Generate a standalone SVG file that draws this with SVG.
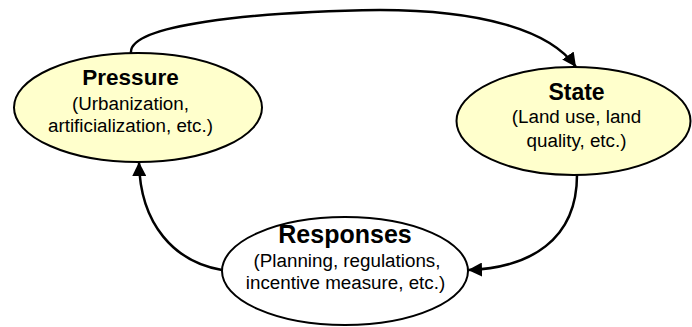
<svg xmlns="http://www.w3.org/2000/svg" width="692" height="327" viewBox="0 0 692 327">
<style>
.node{stroke:#000;stroke-width:2}
.yl{fill:#FFFFCC}
.wh{fill:#FFFFFF}
.t{font-family:"Liberation Sans",Arial,sans-serif;fill:#000;text-anchor:middle}
.ti{font-weight:bold}
.sub{font-size:18.8px}
.edge{fill:none;stroke:#000;stroke-width:2.5}
</style>
<defs>
<marker id="arr" markerUnits="userSpaceOnUse" markerWidth="16" markerHeight="14" refX="14" refY="7" orient="auto">
<path d="M0,0 L14,7 L0,14 Z" fill="#000"/>
</marker>
</defs>
<g id="connectors">
<path class="edge" d="M131,53 C128,25 250,12 380,10 C480,10 550,30 576,67" marker-end="url(#arr)"/>
<path class="edge" d="M577,175 C577,240 530,268 468,270" marker-end="url(#arr)"/>
<path class="edge" d="M222,270 C175,262 140,225 139,162" marker-end="url(#arr)"/>
</g>
<g id="pressure">
<ellipse class="node yl" cx="138" cy="107.5" rx="124" ry="54.5"/>
<text class="t ti" x="130.5" y="85" font-size="22.5">Pressure</text>
<text class="t sub" x="130.5" y="110">(Urbanization,</text>
<text class="t sub" x="130.5" y="132">artificialization, etc.)</text>
</g>
<g id="state">
<ellipse class="node yl" cx="573.5" cy="121" rx="117" ry="54"/>
<text class="t ti" x="576.5" y="100" font-size="23">State</text>
<text class="t sub" x="576.5" y="123">(Land use, land</text>
<text class="t sub" x="576.5" y="146.5">quality, etc.)</text>
</g>
<g id="responses">
<ellipse class="node wh" cx="345" cy="271" rx="123" ry="54"/>
<text class="t ti" x="345" y="243" font-size="25">Responses</text>
<text class="t sub" x="347" y="267">(Planning, regulations,</text>
<text class="t sub" x="345.5" y="289">incentive measure, etc.)</text>
</g>
</svg>
